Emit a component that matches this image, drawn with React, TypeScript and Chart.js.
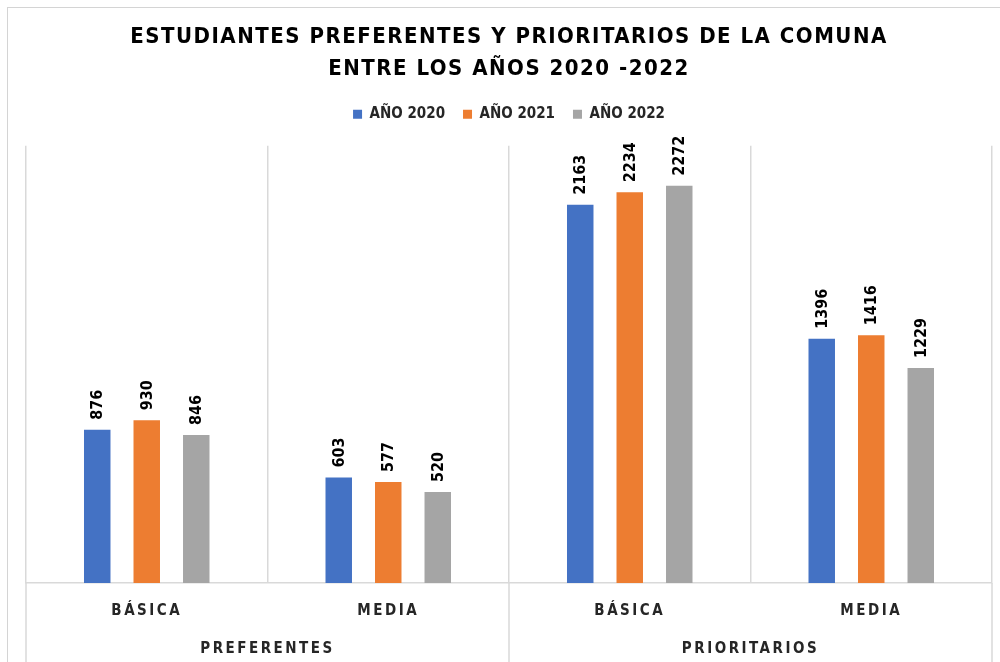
import React, { useEffect, useRef } from 'react';
import { Chart, registerables } from 'chart.js';

Chart.register(...registerables);

const titleLines = ['ESTUDIANTES PREFERENTES Y PRIORITARIOS DE LA COMUNA', 'ENTRE LOS AÑOS 2020 -2022'];
const groups = ['PREFERENTES', 'PRIORITARIOS'];
const levels = ['BÁSICA', 'MEDIA', 'BÁSICA', 'MEDIA'];
const seriesNames = ['AÑO 2020', 'AÑO 2021', 'AÑO 2022'];
const values2020 = [876, 603, 2163, 1396];
const values2021 = [930, 577, 2234, 1416];
const values2022 = [846, 520, 2272, 1229];
const seriesColors = ['#4472C4', '#ED7D31', '#A5A5A5'];
const yMax = 2500;

const FONT = "'Liberation Sans Narrow', 'DejaVu Sans Condensed', 'Open Sans', sans-serif";
const GRID = '#d9d9d9';

const spacingPlugin = {
  id: 'letterSpacing',
  afterInit(chart: any) {
    const lg = chart.legend;
    if (lg && !lg.__fitPatched) {
      const origFit = lg.fit.bind(lg);
      lg.fit = () => {
        origFit();
        lg.height += 14;
      };
      lg.__fitPatched = true;
    }
  },
  beforeDraw(chart: any) {
    const ctx = chart.ctx;
    const wrap = (obj: any, fn: string, sp: string) => {
      if (!obj || obj['__sp_' + fn]) return;
      const orig = obj[fn].bind(obj);
      obj[fn] = (...args: any[]) => {
        const prev = ctx.letterSpacing;
        ctx.letterSpacing = sp;
        orig(...args);
        ctx.letterSpacing = prev || '0px';
      };
      obj['__sp_' + fn] = true;
    };
    wrap(chart.titleBlock, 'draw', '1.5px');
    wrap(chart.scales.x, 'drawLabels', '2.5px');
    wrap(chart.scales.x2, 'drawLabels', '2.5px');
  },
};

const barLabelPlugin = {
  id: 'barLabels',
  afterDatasetsDraw(chart: any) {
    const ctx = chart.ctx;
    ctx.save();
    ctx.font = `bold 16px ${FONT}`;
    ctx.fillStyle = '#000000';
    ctx.textAlign = 'left';
    ctx.textBaseline = 'middle';
    chart.data.datasets.forEach((ds: any, di: number) => {
      chart.getDatasetMeta(di).data.forEach((bar: any, i: number) => {
        ctx.save();
        ctx.translate(bar.x + 1, bar.y - 10);
        ctx.rotate(-Math.PI / 2);
        ctx.fillText(String(ds.data[i]), 0, 0);
        ctx.restore();
      });
    });
    ctx.restore();
  },
};

const groupLinesPlugin = {
  id: 'groupLines',
  afterDraw(chart: any) {
    const xs = chart.scales.x;
    const ctx = chart.ctx;
    const bottom = chart.chartArea.bottom;
    const per = levels.length / groups.length;
    ctx.save();
    ctx.strokeStyle = GRID;
    ctx.lineWidth = 1.5;
    for (let g = 0; g <= groups.length; g++) {
      const px = xs.getPixelForValue(g * per - 0.5);
      ctx.beginPath();
      ctx.moveTo(px, bottom);
      ctx.lineTo(px, chart.height);
      ctx.stroke();
    }
    ctx.restore();
  },
};

export default function App() {
  const ref = useRef<HTMLCanvasElement | null>(null);

  useEffect(() => {
    if (!ref.current) return;
    const seriesValues = [values2020, values2021, values2022];
    const chart = new Chart(ref.current, {
      type: 'bar',
      data: {
        labels: levels,
        datasets: seriesNames.map((name, i) => ({
          label: name,
          data: seriesValues[i],
          backgroundColor: seriesColors[i],
          borderWidth: 0,
          barPercentage: 0.535,
          categoryPercentage: 0.615,
          xAxisID: 'x',
        })),
      },
      options: {
        responsive: false,
        animation: false,
        layout: { padding: { left: 26, right: 8, top: 0, bottom: 3 } },
        plugins: {
          title: {
            display: true,
            text: titleLines,
            color: '#000000',
            font: { family: FONT, size: 22, weight: 'bold', lineHeight: 1.45 },
            padding: { top: 21, bottom: 4 },
          },
          legend: {
            display: true,
            position: 'top',
            labels: {
              boxWidth: 9,
              boxHeight: 9,
              color: '#262626',
              font: { family: FONT, size: 15, weight: 'bold' },
              padding: 18,
            },
          },
          tooltip: { enabled: false },
        },
        scales: {
          x: {
            type: 'category',
            offset: true,
            grid: { offset: true, color: GRID, lineWidth: 1.5, drawTicks: false },
            border: { display: true, color: GRID, width: 1.5 },
            ticks: {
              color: '#262626',
              font: { family: FONT, size: 15, weight: 'bold' },
              padding: 19,
              maxRotation: 0,
              autoSkip: false,
            },
          },
          x2: {
            type: 'category',
            labels: groups,
            position: 'bottom',
            offset: true,
            grid: { display: false, drawTicks: false },
            border: { display: false },
            ticks: {
              color: '#262626',
              font: { family: FONT, size: 15, weight: 'bold' },
              padding: 1,
              maxRotation: 0,
              autoSkip: false,
            },
          },
          y: { display: false, min: 0, max: yMax },
        },
      },
      plugins: [spacingPlugin, barLabelPlugin, groupLinesPlugin],
    });
    return () => chart.destroy();
  }, []);

  return (
    <div style={{ position: 'fixed', left: 0, top: 0, width: 1000, height: 662, background: '#ffffff', overflow: 'hidden' }}>
      <div style={{ position: 'absolute', left: 7, top: 7, width: 1100, height: 800, border: '1px solid #d4d4d4', boxSizing: 'border-box' }} />
      <canvas ref={ref} width={1000} height={662} style={{ position: 'absolute', left: 0, top: 0, width: 1000, height: 662 }} />
    </div>
  );
}
